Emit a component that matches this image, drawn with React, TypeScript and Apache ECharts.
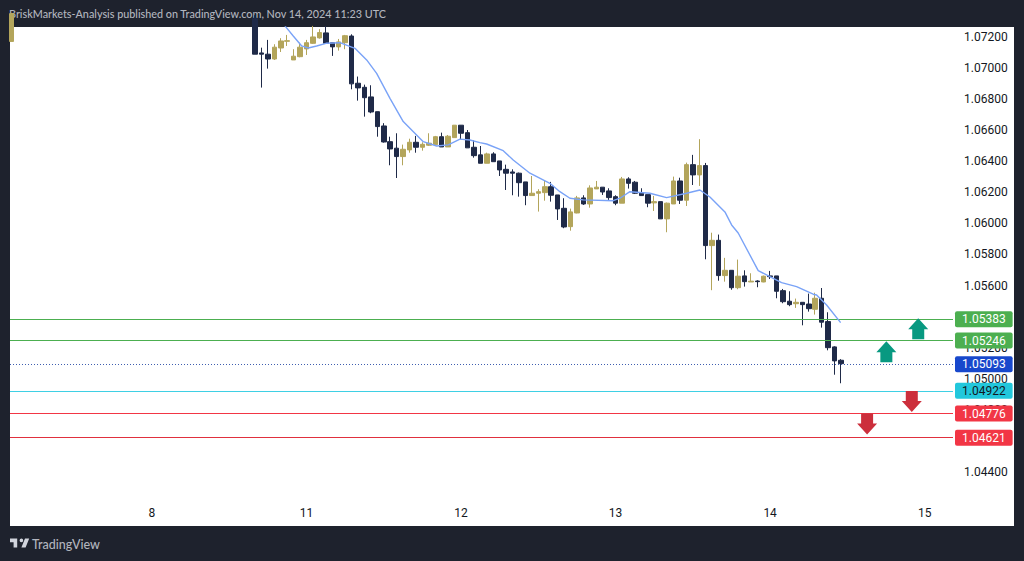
import React, { useEffect, useRef } from "react";
import * as echarts from "echarts";

const titleText = "BriskMarkets-Analysis published on TradingView.com, Nov 14, 2024 11:23 UTC";
const brandText = "TradingView";
const logoPath = "M14 6H2v6h6v9h6V6zm14 15h-7l6-15h7l-6 15zm-7-9a3 3 0 1 0 0-6 3 3 0 0 0 0 6z";

const dayHours = [0, 24, 48, 72, 96, 120];
const dayLabels = ["8", "11", "12", "13", "14", "15"];
const priceTicks = [1.044, 1.046, 1.048, 1.05, 1.052, 1.054, 1.056, 1.058, 1.06, 1.062, 1.064, 1.066, 1.068, 1.07, 1.072];

const firstCandleHour = 16;
// open, close, low, high
const candles = [
  [1.0732,1.07089,1.07089,1.0734],[1.07097,1.07089,1.06874,1.07131],[1.07089,1.07058,1.06996,1.07181],[1.07058,1.07134,1.07052,1.07153],
  [1.07129,1.07174,1.07103,1.07192],[1.07172,1.07176,1.07142,1.07213],[1.07052,1.07076,1.07052,1.07121],[1.07073,1.07134,1.07069,1.07163],
  [1.07123,1.07163,1.07084,1.07181],[1.07159,1.072,1.07155,1.07271],[1.07194,1.07228,1.07189,1.0725],[1.07226,1.07159,1.07155,1.07271],
  [1.07163,1.07136,1.07078,1.07163],[1.07136,1.07168,1.07112,1.07187],[1.07163,1.07208,1.07121,1.07213],[1.07206,1.06898,1.06863,1.07217],
  [1.06902,1.06872,1.0679,1.06945],[1.06876,1.06809,1.06687,1.06893],[1.06814,1.06717,1.06709,1.06889],[1.06719,1.06623,1.06558,1.06719],
  [1.06627,1.06524,1.0652,1.06645],[1.06526,1.06479,1.06374,1.06558],[1.06484,1.0643,1.06292,1.0658],[1.0643,1.06477,1.06374,1.06507],
  [1.06473,1.06522,1.06455,1.06545],[1.06522,1.0649,1.06455,1.06563],[1.0649,1.06509,1.06468,1.06522],[1.06503,1.06516,1.06498,1.0658],
  [1.06507,1.06558,1.06503,1.06563],[1.06558,1.06492,1.06492,1.06584],[1.06492,1.06561,1.06492,1.06569],[1.06552,1.06632,1.06552,1.06632],
  [1.06632,1.0658,1.06542,1.06632],[1.06584,1.06486,1.06486,1.06601],[1.0649,1.06436,1.06423,1.06534],[1.06441,1.06387,1.06387,1.06498],
  [1.06387,1.06447,1.06387,1.06455],[1.06447,1.06397,1.06397,1.06458],[1.06402,1.06344,1.06305,1.06402],[1.06348,1.06323,1.06215,1.06378],
  [1.06331,1.06323,1.06181,1.06348],[1.06323,1.06262,1.06172,1.06327],[1.06267,1.06179,1.06117,1.06267],[1.06179,1.06194,1.06179,1.06305],
  [1.06194,1.06204,1.06076,1.0622],[1.06198,1.06236,1.06146,1.06275],[1.06236,1.06181,1.0614,1.06267],[1.06183,1.06093,1.06022,1.06183],
  [1.06097,1.05977,1.05969,1.06162],[1.05979,1.06074,1.05953,1.06095],[1.06067,1.06164,1.06065,1.06177],[1.06164,1.06125,1.06119,1.06181],
  [1.06125,1.06228,1.06101,1.06245],[1.06222,1.06233,1.06222,1.06273],[1.06233,1.06202,1.06183,1.06233],[1.06209,1.06166,1.06151,1.06226],
  [1.06172,1.0613,1.06117,1.06181],[1.0613,1.06286,1.0613,1.06299],[1.06286,1.06258,1.06224,1.06297],[1.06265,1.06194,1.06189,1.06273],
  [1.06196,1.06179,1.06179,1.06226],[1.06185,1.0613,1.06104,1.06185],[1.06132,1.0614,1.0608,1.06177],[1.0614,1.06029,1.06029,1.0614],
  [1.06029,1.0613,1.05943,1.06134],[1.06125,1.06273,1.06125,1.06301],[1.06273,1.06149,1.06125,1.06294],[1.06149,1.06378,1.06112,1.06391],
  [1.06378,1.06312,1.06247,1.06441],[1.06312,1.06372,1.06241,1.06542],[1.06372,1.05857,1.05769,1.06389],[1.05857,1.05891,1.0557,1.0594],
  [1.05891,1.05664,1.05631,1.05928],[1.05664,1.05698,1.05625,1.05778],[1.05698,1.05586,1.05573,1.05698],[1.05586,1.0566,1.05576,1.05767],
  [1.05662,1.05625,1.05593,1.05698],[1.05623,1.05628,1.05623,1.05679],[1.05629,1.05625,1.05589,1.05634],[1.05623,1.0566,1.05621,1.05664],
  [1.05662,1.05657,1.05642,1.05694],[1.05662,1.05563,1.05518,1.05662],[1.05567,1.05496,1.05486,1.05578],[1.05499,1.05477,1.05467,1.05563],
  [1.05483,1.05492,1.05456,1.05516],[1.05492,1.05477,1.05344,1.05492],[1.05481,1.05451,1.05432,1.05548],[1.05447,1.05518,1.05413,1.05554],
  [1.05518,1.05364,1.05329,1.05584],[1.05368,1.052,1.05183,1.05428],[1.05205,1.05115,1.05026,1.05209],[1.05119,1.05097,1.04971,1.05126],
];
const stubCandle = [-21.8, 1.07171, 1.0735, 1.07171, 1.0735];

const maHours = [20.65,21.94,23.25,24.27,25.57,27.02,29.19,31.52,33.34,34.89,36.96,39.02,42.13,44.21,46.01,47.83,49.38,50.93,51.97,54.55,56.1,58.7,61.8,63.35,64.91,66.97,71.63,72.67,74.22,77.33,79.92,83.03,85.09,86.65,88.98,90.02,91.04,94.15,95.96,97.78,100.11,102.69,103.22,104.77,106.95];
const maValues = [1.07271,1.07206,1.07142,1.07129,1.07142,1.07159,1.07163,1.07127,1.07052,1.06966,1.06805,1.06655,1.06526,1.06498,1.06505,1.06542,1.06537,1.0652,1.06511,1.06468,1.06408,1.06323,1.06258,1.06204,1.06162,1.06151,1.06146,1.06162,1.06204,1.06194,1.06166,1.06194,1.06215,1.0617,1.06074,1.0599,1.05938,1.05696,1.05657,1.05619,1.05593,1.05544,1.05539,1.05475,1.05361];

const levelPrices = [1.05383, 1.05246, 1.05093, 1.04922, 1.04776, 1.04621];
const levelColors = ["#4caf50", "#4caf50", "#1848cc", "#22c7dc", "#f23645", "#f23645"];
const levelLineColors = ["#4caf50", "#4caf50", "#3f5fb0", "#3fd0e4", "#f23645", "#e0303e"];
const levelTextColors = ["#ffffff", "#ffffff", "#ffffff", "#131722", "#ffffff", "#ffffff"];

const upArrows = [[119, 1.05322], [114.05, 1.05174]];
const downArrows = [[118, 1.04853], [111.06, 1.04709]];
const upPath = "path://M10 0L20 11L16 11L16 21L4 21L4 11L0 11Z";
const downPath = "path://M4 0L16 0L16 10L20 10L10 21L0 10L4 10Z";

const xMin = -22.05;
const xMax = 124.4;
const yMin = 1.04226;
const yMax = 1.07264;

const DARK = "#1e222d";
const NAVY = "#1f2a48";
const TAN = "#b3a55b";
const FONT = "Roboto, sans-serif";

echarts.graphic.registerShape("tvlogo", echarts.graphic.extendPath(logoPath as any, {}) as any);

export default function App() {
  const ref = useRef<HTMLDivElement>(null);
  useEffect(() => {
    const chart = echarts.init(ref.current!, undefined, { renderer: "svg" });
    const candleData = [stubCandle, ...candles.map((c, i) => [firstCandleHour + i, ...c])];
    chart.setOption({
      animation: false,
      backgroundColor: DARK,
      grid: { left: 10, top: 27, width: 943, height: 472, containLabel: false },
      xAxis: {
        type: "value",
        min: xMin,
        max: xMax,
        splitLine: { show: false },
        axisLine: { show: false },
        axisTick: { show: false },
        axisLabel: {
          customValues: dayHours,
          formatter: (v: number) => dayLabels[dayHours.indexOf(v)] ?? "",
          color: "#131722",
          fontFamily: FONT,
          fontSize: 12,
          margin: 8,
        },
      },
      yAxis: {
        type: "value",
        position: "right",
        min: yMin,
        max: yMax,
        scale: true,
        splitLine: { show: false },
        axisLine: { show: false },
        axisTick: { show: false },
        axisLabel: {
          customValues: priceTicks,
          formatter: (v: number) => v.toFixed(5),
          color: "#131722",
          fontFamily: FONT,
          fontSize: 12,
          margin: 11,
        },
      },
      graphic: [
        { type: "rect", z: -1, silent: true, shape: { x: 10, y: 27, width: 1004, height: 499 }, style: { fill: "#ffffff" } },
        { type: "text", x: 9, y: 8, style: { text: titleText, fill: "#b2b5be", font: "500 10.8px Lato, sans-serif" } },
        { type: "tvlogo", x: 8.8, y: 535, scaleX: 0.6, scaleY: 0.6, style: { fill: "#d1d4dc" } },
        { type: "text", x: 32, y: 538, style: { text: brandText, fill: "#b2b5be", font: "500 12.5px Lato, sans-serif" } },
      ],
      series: [
        {
          type: "candlestick",
          z: 3,
          clip: true,
          barWidth: 5,
          encode: { x: 0, y: [1, 2, 3, 4] },
          data: candleData,
          itemStyle: { color: TAN, color0: NAVY, borderColor: TAN, borderColor0: NAVY, borderWidth: 1 },
        },
        {
          type: "line",
          z: 5,
          showSymbol: false,
          symbol: "none",
          clip: true,
          lineStyle: { color: "#7aa3f7", width: 1.4 },
          data: maHours.map((h, i) => [h, maValues[i]]),
          markLine: {
            silent: true,
            symbol: "none",
            animation: false,
            precision: 5,
            data: levelPrices.map((p, i) => ({
              yAxis: p,
              lineStyle: { color: levelLineColors[i], width: 1, type: i === 2 ? [1, 2] : "solid" },
              label: {
                show: true,
                position: "end",
                distance: 2,
                formatter: p.toFixed(5),
                color: levelTextColors[i],
                backgroundColor: levelColors[i],
                borderRadius: 2,
                padding: [2, 7, 2, 7],
                lineHeight: 12,
                align: "left",
                verticalAlign: "middle",
                fontFamily: FONT,
                fontSize: 12,
              },
            })),
          },
        },
        {
          type: "scatter",
          z: 6,
          symbol: upPath,
          symbolSize: [20, 21],
          itemStyle: { color: "#089981", opacity: 1 },
          data: upArrows,
        },
        {
          type: "scatter",
          z: 6,
          symbol: downPath,
          symbolSize: [20, 21],
          itemStyle: { color: "#cc2f3c", opacity: 1 },
          data: downArrows,
        },
      ],
    });
    return () => chart.dispose();
  }, []);
  return <div ref={ref} style={{ position: "fixed", left: 0, top: 0, width: 1024, height: 561 }} />;
}
